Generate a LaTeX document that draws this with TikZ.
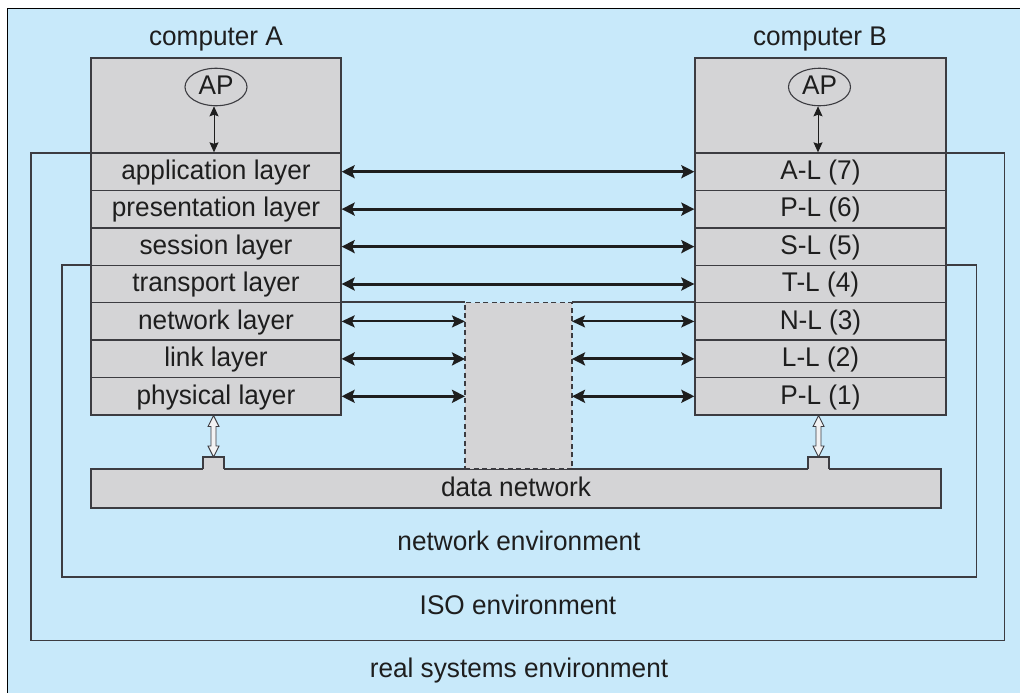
\documentclass[tikz,border=0pt]{standalone}
\usepackage{fontspec}
\setmainfont{Liberation Sans}[FakeStretch=0.97]
\usetikzlibrary{arrows.meta,shapes.geometric}
\definecolor{bgblue}{RGB}{200,233,250}
\definecolor{boxgray}{RGB}{212,212,214}
\definecolor{linec}{RGB}{60,60,65}
\definecolor{textc}{RGB}{30,30,30}
\begin{document}
\begin{tikzpicture}[x=1pt,y=-1pt,
  lbl/.style={font=\fontsize{27}{30}\selectfont, text=textc, inner sep=0pt, text height=21pt, text depth=5.5pt},
  layer/.style={lbl, draw=linec, line width=1.3pt, fill=boxgray, minimum width=250pt, minimum height=37.43pt, anchor=center},
  envline/.style={draw=linec, line width=1.3pt},
  bigarrow/.style={line width=3pt, draw=textc, {Stealth[length=13pt,width=13pt,inset=2.5pt]}-{Stealth[length=13pt,width=13pt,inset=2.5pt]}},
  midarrow/.style={line width=2pt, draw=textc, {Stealth[length=13pt,width=12pt,inset=2.5pt]}-{Stealth[length=13pt,width=12pt,inset=2.5pt]}},
  aparrow/.style={line width=1pt, draw=textc, {Stealth[length=10pt,width=9pt,inset=1.5pt]}-{Stealth[length=10pt,width=9pt,inset=1.5pt]}},
  hol/.style={draw=linec, line width=0.9pt, fill=white!70!boxgray, line join=miter},
]
\useasboundingbox (0,0) rectangle (1020,693);
% background
\fill[white] (0,0) rectangle (1020,693);
\fill[bgblue] (7.5,8.5) rectangle (1020,693);
\draw[black, line width=1.5pt] (7.5,693) -- (7.5,8.5) -- (1020,8.5);

% ISO environment
\draw[envline] (91,153) -- (31,153) -- (31,640.5) -- (1004.5,640.5) -- (1004.5,153) -- (946,153);
% network environment (outer part)
\draw[envline] (91,265) -- (62,265) -- (62,577) -- (976.5,577) -- (976.5,265) -- (946,265);

% computers
\node[layer, minimum height=95pt] (compA) at (216,105.5) {};
\node[layer, minimum width=251pt, minimum height=95pt] (compB) at (820.5,105.5) {};

\node[layer] (appA) at (216,171.7) {application layer};
\node[layer] (preA) at (216,209.1) {presentation layer};
\node[layer] (sesA) at (216,246.6) {session layer};
\node[layer] (traA) at (216,284.0) {transport layer};
\node[layer] (netA) at (216,321.4) {network layer};
\node[layer] (linA) at (216,358.9) {link layer};
\node[layer] (phyA) at (216,396.3) {physical layer};

\node[layer, minimum width=251pt] (appB) at (820.5,171.7) {A-L (7)};
\node[layer, minimum width=251pt] (preB) at (820.5,209.1) {P-L (6)};
\node[layer, minimum width=251pt] (sesB) at (820.5,246.6) {S-L (5)};
\node[layer, minimum width=251pt] (traB) at (820.5,284.0) {T-L (4)};
\node[layer, minimum width=251pt] (netB) at (820.5,321.4) {N-L (3)};
\node[layer, minimum width=251pt] (linB) at (820.5,358.9) {L-L (2)};
\node[layer, minimum width=251pt] (phyB) at (820.5,396.3) {P-L (1)};

\node[lbl] (titA) at (216,38) {computer A};
\node[lbl] (titB) at (820,38) {computer B};

\node[lbl, ellipse, draw=linec, line width=1.1pt, fill=boxgray, minimum width=62pt, minimum height=31pt, inner sep=0pt] (apA) at (216,87) {AP};
\node[lbl, ellipse, draw=linec, line width=1.1pt, fill=boxgray, minimum width=62pt, minimum height=31pt, inner sep=0pt] (apB) at (819.5,87) {AP};

% data network
\node[lbl, draw=linec, line width=1.3pt, fill=boxgray, minimum width=850pt, minimum height=39pt] (dnet) at (516,488.5) {data network};
\fill[boxgray] (203,457) rectangle (224,470);
\draw[envline] (203,469) -- (203,457) -- (224,457) -- (224,469);
\fill[boxgray] (808,457) rectangle (829,470);
\draw[envline] (808,469) -- (808,457) -- (829,457) -- (829,469);

% router
\node[draw=linec, line width=1.3pt, dash pattern=on 5pt off 3.5pt, fill=boxgray, minimum width=107pt, minimum height=166.3pt, inner sep=0pt, outer sep=0pt] (router) at (518.5,385.85) {};
% network environment inner segments
\draw[envline] (netA.north east) -- (netA.north east -| router.west);
\draw[envline] (netB.north west -| router.east) -- (netB.north west);

% environment labels
\node[lbl] (netenv) at (519,543) {network environment};
\node[lbl] (isoenv) at (518,607) {ISO environment};
\node[lbl] (realenv) at (519,670) {real systems environment};

% peer arrows
\draw[bigarrow] (appA.east) -- (appB.west);
\draw[bigarrow] (preA.east) -- (preB.west);
\draw[bigarrow] (sesA.east) -- (sesB.west);
\draw[bigarrow] (traA.east) -- (traB.west);
\draw[midarrow] (netA.east) -- (netA.east -| router.west);
\draw[midarrow] (netB.west -| router.east) -- (netB.west);
\draw[bigarrow] (linA.east) -- (linA.east -| router.west);
\draw[bigarrow] (linB.west -| router.east) -- (linB.west);
\draw[bigarrow] (phyA.east) -- (phyA.east -| router.west);
\draw[bigarrow] (phyB.west -| router.east) -- (phyB.west);

% AP arrows
\draw[aparrow] ([xshift=-2pt]apA.south) -- ([xshift=-2pt]apA.south |- appA.north);
\draw[aparrow] ([xshift=-1.5pt]apB.south) -- ([xshift=-1.5pt]apB.south |- appB.north);

% hollow arrows to data network
\coordinate (hA) at (213.5,415.5);
\coordinate (hB) at (818.5,415.5);
\draw[hol] (hA) -- ++(5.5,11) -- ++(-3,0) -- ++(0,19.5) -- ++(3,0) -- ++(-5.5,11) -- ++(-5.5,-11) -- ++(3,0) -- ++(0,-19.5) -- ++(-3,0) -- cycle;
\draw[hol] (hB) -- ++(5.5,11) -- ++(-3,0) -- ++(0,19.5) -- ++(3,0) -- ++(-5.5,11) -- ++(-5.5,-11) -- ++(3,0) -- ++(0,-19.5) -- ++(-3,0) -- cycle;
\end{tikzpicture}
\end{document}
